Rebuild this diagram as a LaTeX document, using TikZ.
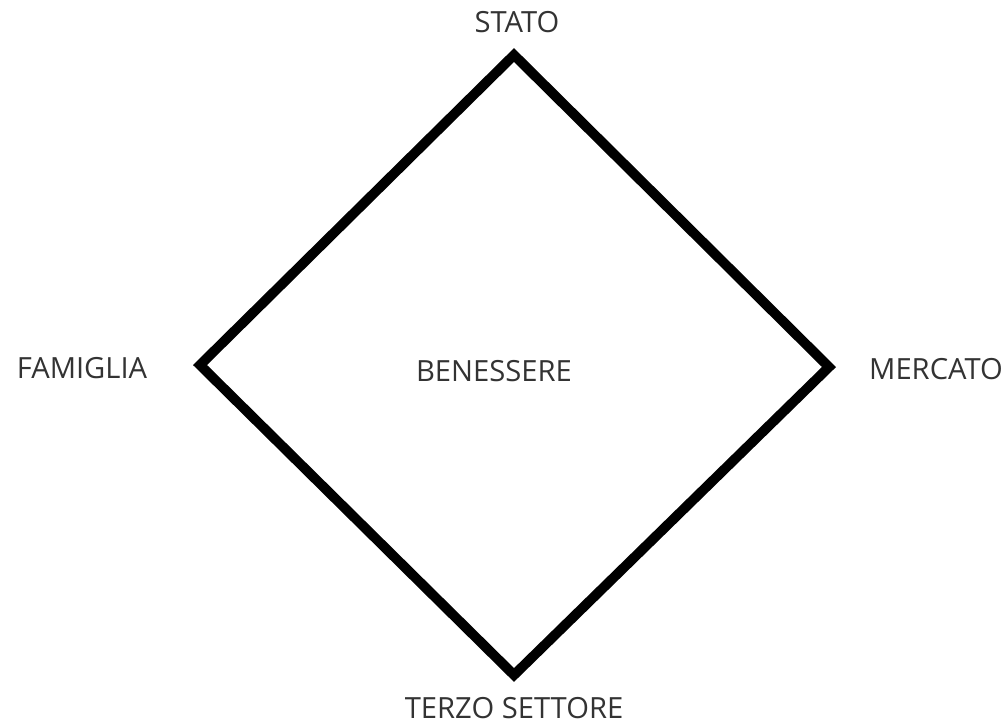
\documentclass[tikz,border=0pt]{standalone}
\usepackage{fontspec}
\setmainfont{Open Sans}
\definecolor{testo}{HTML}{333333}
\tikzset{
  etichetta/.style={text=testo, font=\fontsize{16.6}{20}\selectfont, inner sep=0pt},
  lato/.style={line width=5.6pt, line join=miter, black}
}

\begin{document}
\begin{tikzpicture}[x=0.02cm, y=-0.02cm]
                \useasboundingbox (0,0) rectangle (1007,725);
                \coordinate (vs) at (514,55);
                \coordinate (vd) at (829,367);
                \coordinate (vb) at (514,675);
                \coordinate (vf) at (200,365);
                \draw[lato] (vs) -- (vd) -- (vb) -- (vf) -- cycle;
                \node[etichetta] (stato) at (517,22) {STATO};
                \node[etichetta] (famiglia) at (82,368) {FAMIGLIA};
                \node[etichetta] (mercato) at (936,369) {MERCATO};
                \node[etichetta] (benessere) at (494,371) {BENESSERE};
                \node[etichetta] (terzo) at (514,708) {TERZO SETTORE};
            \end{tikzpicture}
\end{document}
